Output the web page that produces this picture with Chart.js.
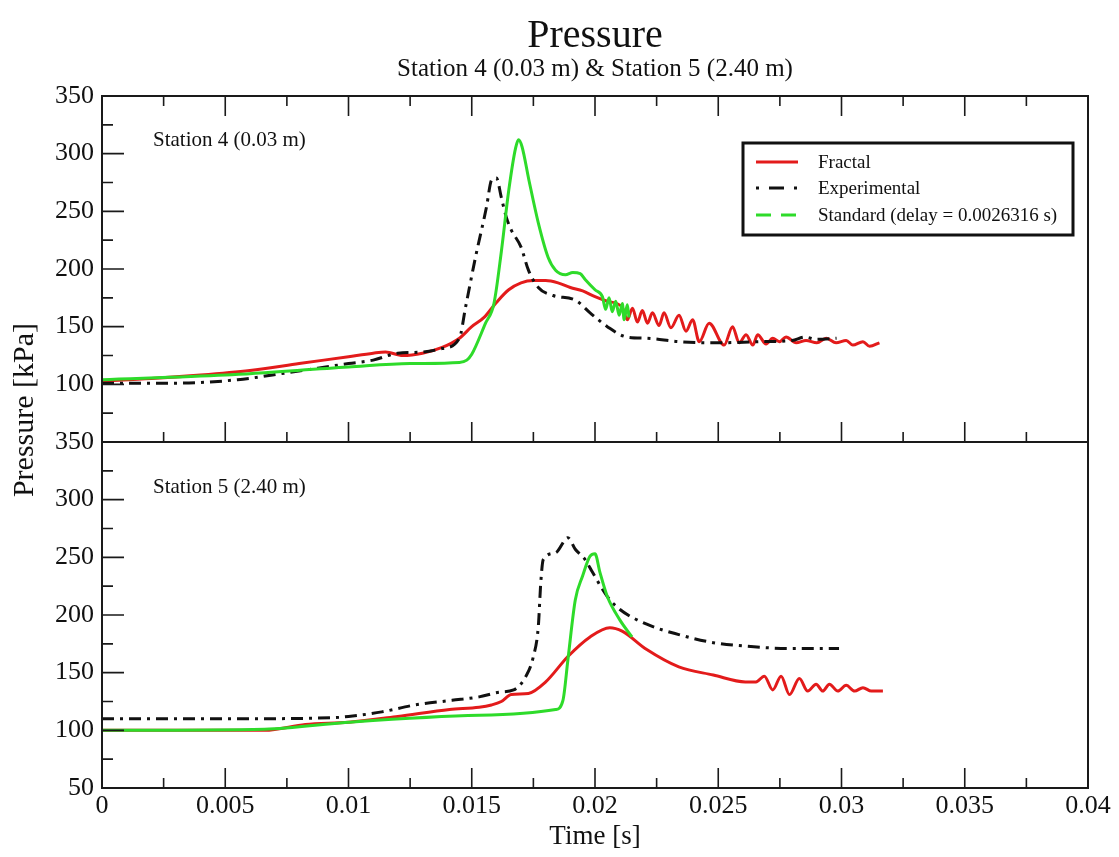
<!DOCTYPE html>
<html>
<head>
<meta charset="utf-8">
<title>Pressure</title>
<script src="https://cdn.jsdelivr.net/npm/chart.js@4.4.1/dist/chart.umd.min.js"></script>
<style>
  body { margin: 0; background: #fff; }
  #wrap { width: 1119px; height: 857px; }
</style>
</head>
<body>
<div id="wrap"><canvas id="pressureChart" width="1119" height="857"></canvas></div>
<script>
// Station 4 (0.03 m) -- time [s] / pressure [kPa]
const st4FractalT = [0, 0.002, 0.004, 0.006, 0.008, 0.010, 0.011, 0.0115, 0.0122, 0.013,
  0.0138, 0.0145, 0.015, 0.0155, 0.016, 0.0165, 0.017, 0.0175, 0.018, 0.0185,
  0.019, 0.0195, 0.020, 0.0205, 0.0211, 0.02131, 0.02152, 0.02172, 0.02192, 0.02213,
  0.02233, 0.0226, 0.0228, 0.02308, 0.02341, 0.02369, 0.02396, 0.02423, 0.02463, 0.02524,
  0.02558, 0.02585, 0.02613, 0.0264, 0.0266, 0.02694, 0.02721, 0.02748, 0.02775, 0.02816,
  0.02856, 0.0290, 0.02938, 0.02978, 0.03019, 0.03046, 0.03087, 0.03114, 0.03154];
const st4FractalP = [103, 105, 108, 112, 118, 124, 127, 128, 125, 127,
  132, 140, 150, 158, 171, 182, 188, 190, 190, 188,
  184, 181, 176, 172, 167, 156, 166, 154, 164, 153,
  162, 151, 162, 149, 160, 146, 156, 137, 153, 134,
  150, 136, 143, 134, 143, 135, 140, 137, 141, 136,
  138, 136, 140, 136, 138, 134, 137, 133, 136];

const st4ExpT = [0, 0.003, 0.0055, 0.0075, 0.010, 0.011, 0.012, 0.013, 0.0138, 0.0145,
  0.01475, 0.01515, 0.0156, 0.0158, 0.0160, 0.0162, 0.0164, 0.0166, 0.0170, 0.0173,
  0.0177, 0.0183, 0.0192, 0.0198, 0.0205, 0.0213, 0.0221, 0.0234, 0.0250, 0.0267,
  0.0280, 0.0285, 0.0290, 0.0298];
const st4ExpP = [101, 101, 104, 110, 118, 121, 127, 128, 131, 140,
  167, 210, 254, 277, 279, 262, 245, 234, 219, 199,
  184, 177, 173, 162, 150, 141, 140, 137, 136, 137,
  138, 141, 139, 140];

const st4StdT = [0, 0.005, 0.010, 0.0125, 0.0145, 0.0148, 0.0150, 0.01556, 0.0159, 0.0162,
  0.0165, 0.01678, 0.0169, 0.01704, 0.01732, 0.0177, 0.0181, 0.0184, 0.0188, 0.0191,
  0.0194, 0.0196, 0.0200, 0.0203, 0.02043, 0.02057, 0.0207, 0.02084, 0.02098, 0.02111,
  0.02118, 0.02131, 0.02138];
const st4StdP = [104, 108, 115, 118, 119, 121, 126, 153, 170, 215,
  268, 305, 312, 306, 277, 240, 210, 199, 195, 197,
  196, 191, 182, 176, 165, 175, 163, 172, 160, 170,
  156, 169, 158];

// Station 5 (2.40 m)
const st5FractalT = [0, 0.004, 0.0066, 0.00825, 0.010, 0.012, 0.0141, 0.0153, 0.0158, 0.0162,
  0.0166, 0.0173, 0.018, 0.0189, 0.0198, 0.0206, 0.0211, 0.0221, 0.0234, 0.0248,
  0.0261, 0.02653, 0.02687, 0.02721, 0.02755, 0.02789, 0.02829, 0.02863, 0.02897, 0.02924,
  0.02951, 0.02985, 0.03019, 0.03053, 0.03087, 0.03121, 0.03168];
const st5FractalP = [100, 100, 100, 105, 107, 112, 118, 120, 122, 125,
  131, 132, 142, 164, 181, 189, 186, 170, 155, 148,
  142, 142, 147, 135, 147, 131, 145, 134, 140, 134,
  140, 134, 139, 134, 137, 134, 134];

const st5ExpT = [0, 0.005, 0.0094, 0.01, 0.01135, 0.0127, 0.0142, 0.0153, 0.0161, 0.0167,
  0.0172, 0.0175, 0.0177, 0.0178, 0.0179, 0.0184, 0.0189, 0.0192, 0.0196, 0.0199,
  0.0205, 0.021, 0.0221, 0.0234, 0.0248, 0.0261, 0.0278, 0.0299];
const st5ExpP = [110, 110, 111, 112, 116, 122, 126, 129, 133, 135,
  147, 164, 190, 228, 248, 254, 267, 257, 248, 237,
  216, 205, 192, 183, 176, 173, 171, 171];

const st5StdT = [0, 0.0066, 0.010, 0.0153, 0.0184, 0.0187, 0.0189, 0.0192, 0.0195, 0.0198,
  0.0200, 0.0202, 0.0205, 0.0210, 0.0215];
const st5StdP = [100, 101, 107, 113, 118, 126, 161, 213, 234, 251,
  253, 237, 216, 196, 181];

// axis ticks
const timeTicks = [0, 0.005, 0.01, 0.015, 0.02, 0.025, 0.03, 0.035, 0.04];
const pressureTicks = [50, 100, 150, 200, 250, 300, 350];

const chartTitle = 'Pressure';
const chartSubtitle = 'Station 4 (0.03 m) & Station 5 (2.40 m)';
const seriesNames = ['Fractal', 'Experimental', 'Standard (delay = 0.0026316 s)'];
const panelLabels = ['Station 4 (0.03 m)', 'Station 5 (2.40 m)'];

const RED = '#e31b1b';
const BLACK = '#111111';
const GREEN = '#2edb2a';
const SERIF = '"Liberation Serif", "Times New Roman", serif';
const DASHDOT = [12, 6, 3, 6];

function zip(ts, ps) {
  return ts.map((t, i) => ({ x: t, y: ps[i] }));
}

function line(label, ts, ps, color, yAxisID, order, dash) {
  return {
    label: label,
    data: zip(ts, ps),
    yAxisID: yAxisID,
    borderColor: color,
    backgroundColor: color,
    borderWidth: 3,
    borderDash: dash || [],
    pointRadius: 0,
    cubicInterpolationMode: 'monotone',
    fill: false,
    order: order
  };
}

function midpoints(arr) {
  const out = [];
  for (let i = 0; i < arr.length - 1; i++) out.push((arr[i] + arr[i + 1]) / 2);
  return out;
}

// titles, frames, inward ticks, panel labels, legend box and the shared y title
const decorations = {
  id: 'decorations',
  afterDatasetsDraw(chart) {
    const { ctx, chartArea, scales } = chart;
    const xs = scales.x;
    const panels = [scales.yTop, scales.yBot];
    const left = chartArea.left, right = chartArea.right;
    const midX = (left + right) / 2;

    ctx.save();
    ctx.fillStyle = '#111';
    ctx.textAlign = 'center';
    ctx.textBaseline = 'middle';
    ctx.font = '40px ' + SERIF;
    ctx.fillText(chartTitle, midX, 36);
    ctx.font = '25px ' + SERIF;
    ctx.fillText(chartSubtitle, midX, 69);

    ctx.strokeStyle = '#1a1a1a';
    ctx.lineWidth = 2;
    panels.forEach(s => {
      ctx.strokeRect(left, s.top, right - left, s.bottom - s.top);
    });

    ctx.lineWidth = 1.6;
    ctx.beginPath();
    // y ticks on the left edge of each panel
    panels.forEach(s => {
      pressureTicks.forEach(v => {
        const y = s.getPixelForValue(v);
        ctx.moveTo(left, y); ctx.lineTo(left + 22, y);
      });
      midpoints(pressureTicks).forEach(v => {
        const y = s.getPixelForValue(v);
        ctx.moveTo(left, y); ctx.lineTo(left + 11, y);
      });
    });
    // x ticks: top and bottom of the upper panel, bottom of the lower one
    const edges = [
      [scales.yTop.top, 1],
      [scales.yTop.bottom, -1],
      [scales.yBot.bottom, -1]
    ];
    edges.forEach(([y0, dir]) => {
      timeTicks.forEach(v => {
        const x = xs.getPixelForValue(v);
        ctx.moveTo(x, y0); ctx.lineTo(x, y0 + dir * 20);
      });
      midpoints(timeTicks).forEach(v => {
        const x = xs.getPixelForValue(v);
        ctx.moveTo(x, y0); ctx.lineTo(x, y0 + dir * 10);
      });
    });
    ctx.stroke();

    // station labels
    ctx.font = '21px ' + SERIF;
    ctx.textAlign = 'left';
    ctx.fillText(panelLabels[0], left + 51, scales.yTop.top + 44);
    ctx.fillText(panelLabels[1], left + 51, scales.yBot.top + 45);

    // legend
    const bx = 743, by = 143, bw = 330, bh = 92;
    ctx.fillStyle = '#fff';
    ctx.fillRect(bx, by, bw, bh);
    ctx.lineWidth = 3;
    ctx.strokeStyle = '#111';
    ctx.strokeRect(bx, by, bw, bh);
    const colors = [RED, BLACK, GREEN];
    const dashes = [[], [3, 10, 15, 10, 3, 100], [15, 10]];
    const rows = [162, 188, 215];
    ctx.font = '19px ' + SERIF;
    seriesNames.forEach((name, i) => {
      ctx.beginPath();
      ctx.strokeStyle = colors[i];
      ctx.lineWidth = 3;
      ctx.setLineDash(dashes[i]);
      ctx.moveTo(756, rows[i]);
      ctx.lineTo(798, rows[i]);
      ctx.stroke();
      ctx.setLineDash([]);
      ctx.fillStyle = '#111';
      ctx.fillText(name, 818, rows[i] + 1);
    });

    // shared y axis title
    ctx.save();
    ctx.translate(25, 410);
    ctx.rotate(-Math.PI / 2);
    ctx.textAlign = 'center';
    ctx.font = '30px ' + SERIF;
    ctx.fillStyle = '#111';
    ctx.fillText('Pressure [kPa]', 0, 0);
    ctx.restore();

    ctx.restore();
  }
};

Chart.defaults.font.family = SERIF;
Chart.defaults.color = '#111';

function pressureAxis(hideBottom) {
  return {
    type: 'linear',
    position: 'left',
    stack: 'panels',
    stackWeight: 1,
    min: 50,
    max: 350,
    grid: { display: false, drawTicks: false },
    border: { display: false },
    afterBuildTicks: s => { s.ticks = pressureTicks.map(v => ({ value: v })); },
    afterFit: s => { s.width = 102; },
    ticks: {
      autoSkip: false,
      padding: 8,
      font: { size: 26 },
      callback: v => (hideBottom && v === 50) ? '' : String(v)
    }
  };
}

const ctx = document.getElementById('pressureChart').getContext('2d');
const pressureChart = new Chart(ctx, {
  type: 'line',
  data: {
    datasets: [
      line(seriesNames[0], st4FractalT, st4FractalP, RED, 'yTop', 3),
      line(seriesNames[1], st4ExpT, st4ExpP, BLACK, 'yTop', 2, DASHDOT),
      line(seriesNames[2], st4StdT, st4StdP, GREEN, 'yTop', 1),
      line(seriesNames[0], st5FractalT, st5FractalP, RED, 'yBot', 3),
      line(seriesNames[1], st5ExpT, st5ExpP, BLACK, 'yBot', 2, DASHDOT),
      line(seriesNames[2], st5StdT, st5StdP, GREEN, 'yBot', 1)
    ]
  },
  options: {
    responsive: false,
    animation: false,
    layout: { padding: { left: 0, right: 31, top: 96, bottom: 0 } },
    plugins: {
      legend: { display: false },
      tooltip: { enabled: false },
      title: { display: false }
    },
    scales: {
      x: {
        type: 'linear',
        position: 'bottom',
        min: 0,
        max: 0.04,
        grid: { display: false, drawTicks: false },
        border: { display: false },
        afterBuildTicks: s => { s.ticks = timeTicks.map(v => ({ value: v })); },
        afterFit: s => { s.height = 69; },
        ticks: {
          autoSkip: false,
          maxRotation: 0,
          padding: 3,
          font: { size: 26 },
          callback: v => String(+v.toFixed(4))
        },
        title: {
          display: true,
          text: 'Time [s]',
          font: { size: 27 },
          padding: { top: 0, bottom: 4 }
        }
      },
      // the lower panel is listed first so that it is stacked beneath
      yBot: pressureAxis(false),
      yTop: pressureAxis(true)
    }
  },
  plugins: [decorations]
});
</script>
</body>
</html>
